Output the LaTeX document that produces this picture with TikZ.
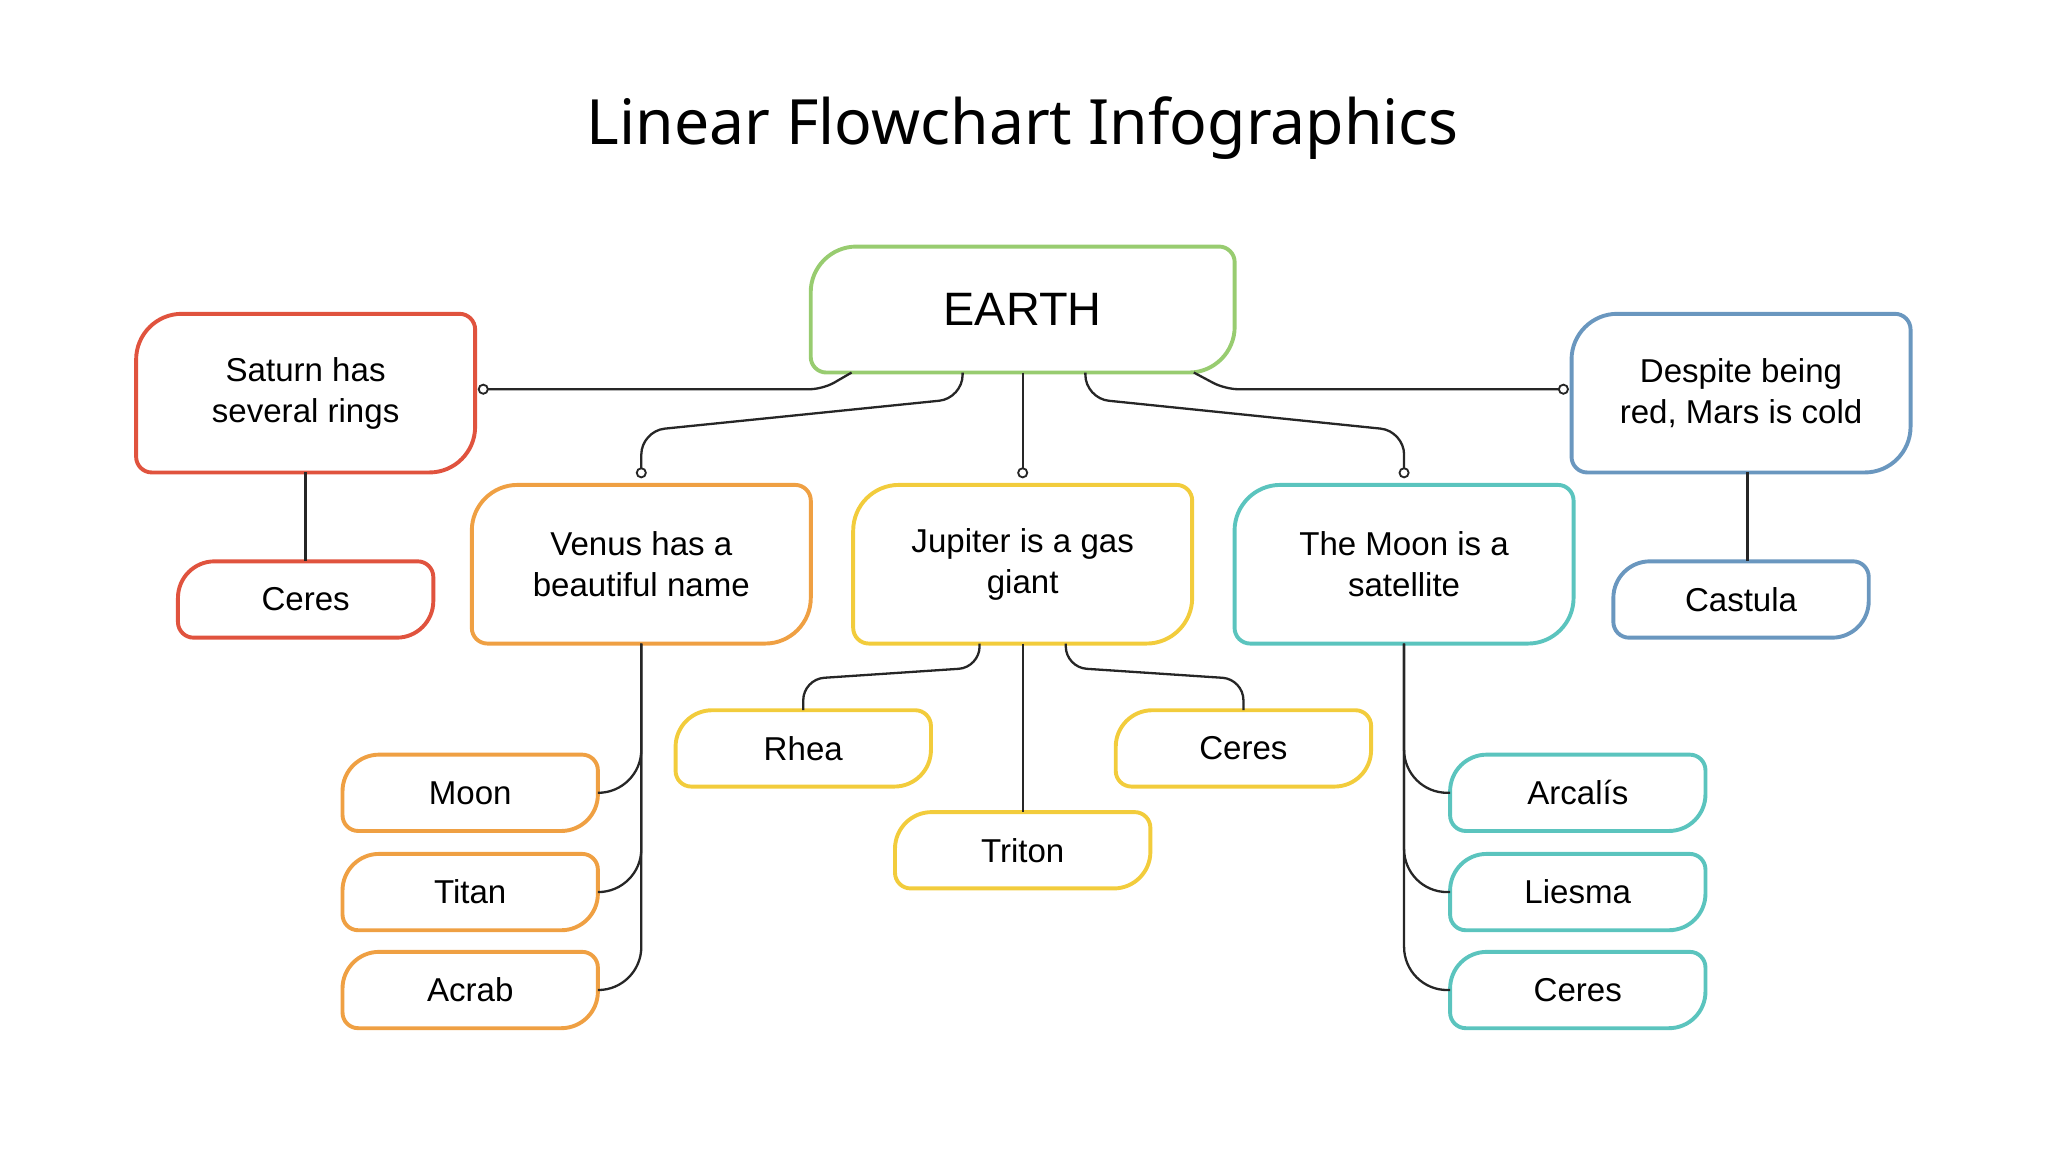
\documentclass[tikz,border=0pt]{standalone}
\usepackage{fontspec}
\setmainfont{Liberation Sans}
\newfontfamily\titlefont{Noto Sans}
\usetikzlibrary{calc}
\definecolor{cred}{HTML}{E0533E}
\definecolor{corange}{HTML}{EFA043}
\definecolor{cyellow}{HTML}{F2CC3C}
\definecolor{cteal}{HTML}{5BC4BE}
\definecolor{cblue}{HTML}{6A97BF}
\definecolor{cgreen}{HTML}{98CC70}
\tikzset{
  big/.style={minimum width=2.58cm,minimum height=1.2cm,inner sep=0pt,align=center,font=\fontsize{7.2}{9}\selectfont},
  small/.style={minimum width=1.94cm,minimum height=0.57cm,inner sep=0pt,align=center,font=\fontsize{7.2}{9}\selectfont},
  conn/.style={line width=0.5pt,black!85},
  dot/.style={circle,draw=black!85,fill=white,line width=0.4pt,inner sep=0pt,minimum size=0.07cm}
}
\def\rr{0.12cm}
\newcommand\shp[3]{%
 \draw[#2,line width=0.85pt] let \p1=(#1.north west), \p2=(#1.south east) in
  (\x1+#3,\y1) -- (\x2-\rr,\y1) arc[start angle=90,end angle=0,radius=\rr]
  -- (\x2,\y2+#3) arc[start angle=0,end angle=-90,radius=#3]
  -- (\x1+\rr,\y2) arc[start angle=270,end angle=180,radius=\rr]
  -- (\x1,\y1-#3) arc[start angle=180,end angle=90,radius=#3] -- cycle;}
\begin{document}
\begin{tikzpicture}[x=0.01cm,y=0.01cm]
\useasboundingbox (0,0) rectangle (1568,-882);
\node[font=\titlefont\fontsize{13.6}{16}\selectfont] (title) at (783,-98) {Linear Flowchart Infographics};
% big nodes
\node[big,minimum width=3.23cm,minimum height=0.95cm,font=\fontsize{10.2}{12}\selectfont] (earth) at (783,-237) {EARTH};
\node[big] (saturn) at (234,-301) {Saturn has\\several rings};
\node[big] (mars) at (1333,-301) {Despite being\\red, Mars is cold};
\node[big] (venus) at (491,-432) {Venus has a\\beautiful name};
\node[big] (jupiter) at (783,-432) {Jupiter is a gas\\giant};
\node[big] (moonb) at (1075,-432) {The Moon is a\\satellite};
% small nodes
\node[small] (ceres1) at (234,-459) {Ceres};
\node[small] (castula) at (1333,-459) {Castula};
\node[small] (moon) at (360,-607) {Moon};
\node[small] (titan) at (360,-683) {Titan};
\node[small] (acrab) at (360,-758) {Acrab};
\node[small] (rhea) at (615,-573) {Rhea};
\node[small] (ceres2) at (952,-573) {Ceres};
\node[small] (triton) at (783,-651) {Triton};
\node[small] (arcalis) at (1208,-607) {Arcalís};
\node[small] (liesma) at (1208,-683) {Liesma};
\node[small] (ceres3) at (1208,-758) {Ceres};
% shapes
\shp{earth}{cgreen}{0.35cm}
\shp{saturn}{cred}{0.35cm}
\shp{mars}{cblue}{0.35cm}
\shp{venus}{corange}{0.35cm}
\shp{jupiter}{cyellow}{0.35cm}
\shp{moonb}{cteal}{0.35cm}
\shp{ceres1}{cred}{0.28cm}
\shp{castula}{cblue}{0.28cm}
\shp{moon}{corange}{0.28cm}
\shp{titan}{corange}{0.28cm}
\shp{acrab}{corange}{0.28cm}
\shp{rhea}{cyellow}{0.28cm}
\shp{ceres2}{cyellow}{0.28cm}
\shp{triton}{cyellow}{0.28cm}
\shp{arcalis}{cteal}{0.28cm}
\shp{liesma}{cteal}{0.28cm}
\shp{ceres3}{cteal}{0.28cm}
% connectors from earth
\coordinate (sL) at (370,-298);
\coordinate (sR) at (1197,-298);
\coordinate (vT) at (491,-362);
\coordinate (jT) at (783,-362);
\coordinate (mT) at (1075,-362);
\draw[conn,rounded corners=0.1cm] ($(earth.south)+(-131,0)$) -- (630,-298) -- (sL);
\draw[conn,rounded corners=0.1cm] ($(earth.south)+(131,0)$) -- (938,-298) -- (sR);
\draw[conn,rounded corners=0.18cm] ($(earth.south)+(-46,0)$) -- (737,-305) -- (491,-330) -- (vT);
\draw[conn,rounded corners=0.18cm] ($(earth.south)+(48,0)$) -- (831,-305) -- (1075,-330) -- (mT);
\draw[conn] (earth.south) -- (jT);
\foreach \c in {sL,sR,vT,jT,mT}{\node[dot] at (\c) {};}
% side
\draw[conn] (saturn.south) -- (ceres1.north);
\draw[conn] ($(mars.south)+(5,0)$) -- ($(castula.north)+(5,0)$);
% venus
\foreach \nm in {moon,titan,acrab}{\draw[conn,rounded corners=0.33cm] (venus.south) |- (\nm.east);}
% moon
\foreach \nm in {arcalis,liesma,ceres3}{\draw[conn,rounded corners=0.33cm] (moonb.south) |- (\nm.west);}
% jupiter
\draw[conn,rounded corners=0.16cm] ($(jupiter.south)+(-33,0)$) -- (750,-511) -- (615,-520) -- (rhea.north);
\draw[conn,rounded corners=0.16cm] ($(jupiter.south)+(33,0)$) -- (816,-511) -- (952,-520) -- (ceres2.north);
\draw[conn] (jupiter.south) -- (triton.north);
\end{tikzpicture}
\end{document}
